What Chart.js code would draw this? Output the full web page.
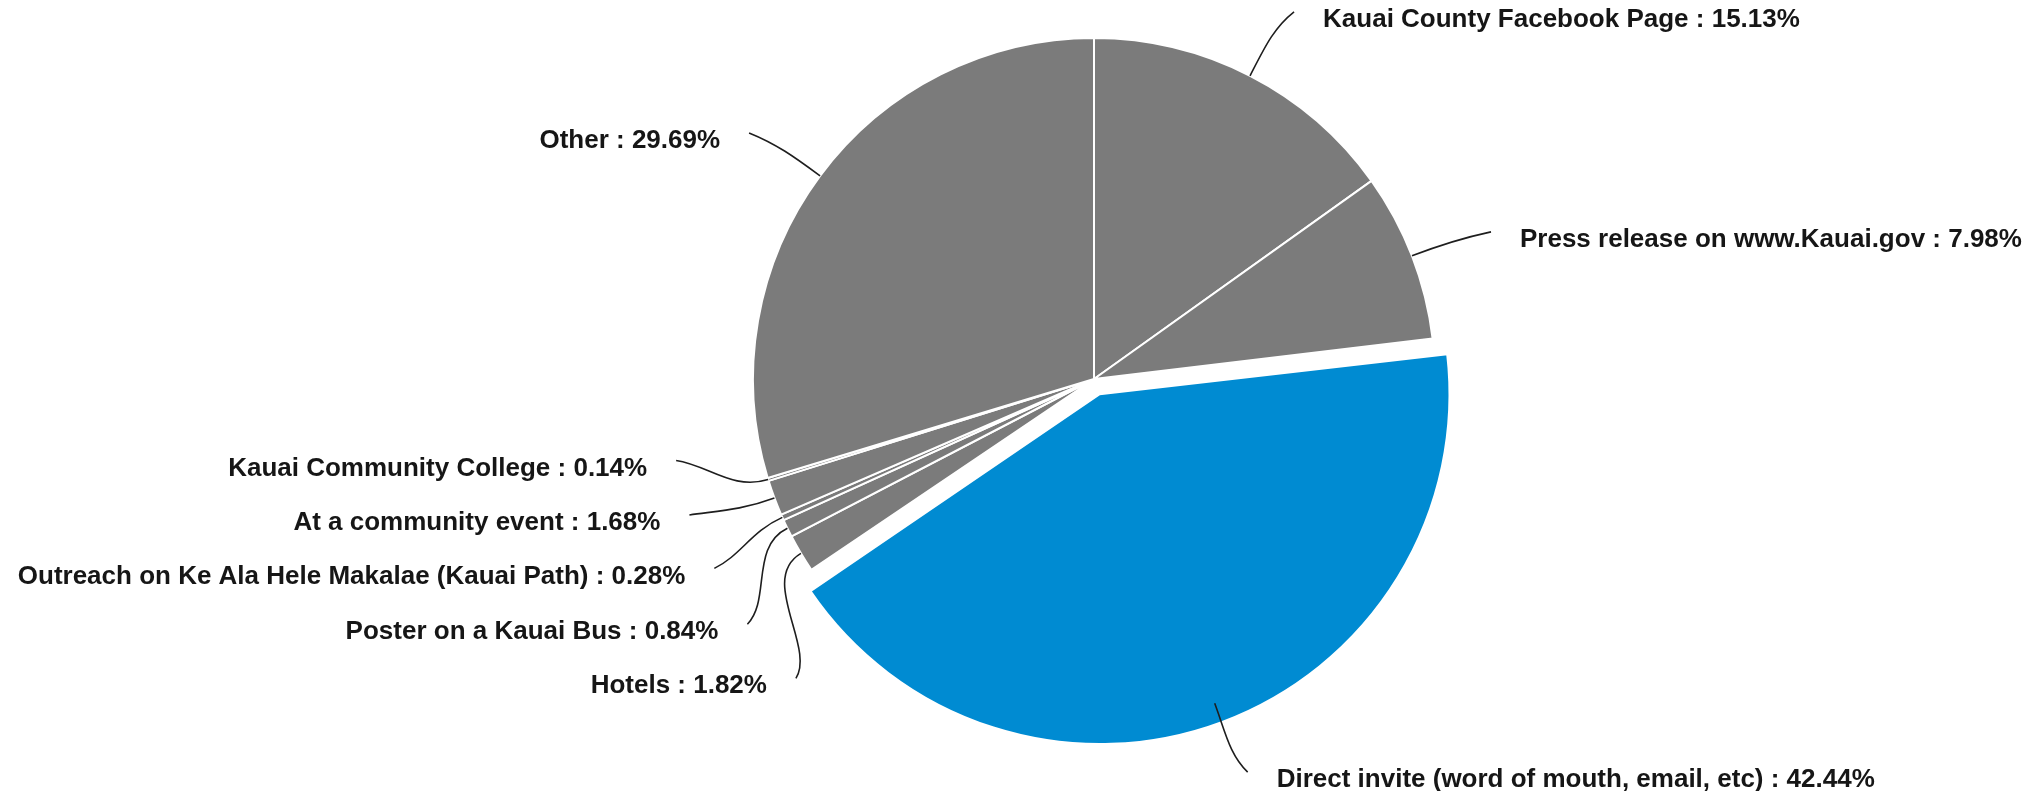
<!DOCTYPE html>
<html>
<head>
<meta charset="utf-8">
<title>How did you hear about it?</title>
<script src="https://cdn.jsdelivr.net/npm/chart.js@4/dist/chart.umd.min.js"></script>
<style>
  html, body { margin: 0; padding: 0; background: #ffffff; }
  #wrap { width: 2036px; height: 791px; }
</style>
</head>
<body>
<div id="wrap"><canvas id="myChart" width="2036" height="791"></canvas></div>
<script>
var categories = [
  "Kauai County Facebook Page",
  "Press release on www.Kauai.gov",
  "Direct invite (word of mouth, email, etc)",
  "Hotels",
  "Poster on a Kauai Bus",
  "Outreach on Ke Ala Hele Makalae (Kauai Path)",
  "At a community event",
  "Kauai Community College",
  "Other"
];
var shares = [15.13, 7.98, 42.44, 1.82, 0.84, 0.28, 1.68, 0.14, 29.69];

// which slice is pulled out and coloured
var highlighted = [false, false, true, false, false, false, false, false, false];

// where each leader line ends, relative to the point on the slice edge
var labelOffsets = [
  [44, -64], [79, -24], [26, 50], [-5, 125], [-40, 96],
  [-68, 51], [-85, 17], [-92, -19], [-71, -43]
];

var GRAY = "#7b7b7b";
var BLUE = "#008bd2";
var PULL = 65;

var leaderLabels = {
  id: "leaderLabels",
  afterDatasetsDraw: function(chart) {
    var ctx = chart.ctx;
    var meta = chart.getDatasetMeta(0);
    ctx.save();
    ctx.font = "bold 26px 'Liberation Sans', Arial, sans-serif";
    ctx.textBaseline = "middle";
    for (var i = 0; i < meta.data.length; i++) {
      var arc = meta.data[i];
      var p = arc.getProps(["x", "y", "startAngle", "endAngle", "outerRadius"], true);
      var mid = (p.startAngle + p.endAngle) / 2;
      var cx = p.x, cy = p.y;
      var inset = 0;
      if (highlighted[i]) {
        // same shift the arc element uses when it draws an offset slice
        var circ = p.endAngle - p.startAngle;
        var fix = 1 - Math.sin(Math.min(Math.PI, circ));
        var shift = (PULL / 4) * (1 + fix);
        cx += Math.cos(mid) * shift;
        cy += Math.sin(mid) * shift;
        inset = 20;
      }
      var ux = Math.cos(mid), uy = Math.sin(mid);
      var ex = cx + ux * p.outerRadius;
      var ey = cy + uy * p.outerRadius;
      var x0 = cx + ux * (p.outerRadius - inset);
      var y0 = cy + uy * (p.outerRadius - inset);
      var x3 = ex + labelOffsets[i][0];
      var y3 = ey + labelOffsets[i][1];
      var side = labelOffsets[i][0] >= 0 ? 1 : -1;
      var dx = x3 - x0, dy = y3 - y0;
      var dist = Math.sqrt(dx * dx + dy * dy);

      ctx.beginPath();
      ctx.moveTo(x0, y0);
      ctx.bezierCurveTo(
        x0 + ux * dist * 0.4, y0 + uy * dist * 0.4,
        x3 - side * dist * 0.15 + (x0 - x3) * 0.2, y3 + (y0 - y3) * 0.25,
        x3, y3
      );
      ctx.strokeStyle = "#1e1e1e";
      ctx.lineWidth = 1.6;
      ctx.stroke();

      ctx.fillStyle = "#161616";
      ctx.textAlign = side > 0 ? "left" : "right";
      var txt = categories[i] + " : " + shares[i].toFixed(2) + "%";
      ctx.fillText(txt, x3 + side * 29, y3 + 8);
    }
    ctx.restore();
  }
};

var chart = new Chart(document.getElementById("myChart").getContext("2d"), {
  type: "pie",
  data: {
    labels: categories,
    datasets: [
      {
        data: shares,
        backgroundColor: highlighted.map(function(h) { return h ? BLUE : GRAY; }),
        borderColor: "#ffffff",
        borderWidth: 2,
        hoverBorderWidth: 2,
        offset: highlighted.map(function(h) { return h ? PULL : 0; }),
        hoverOffset: 0
      }
    ]
  },
  options: {
    responsive: false,
    animation: false,
    radius: 341,
    layout: { padding: { left: 152, right: 0, top: 0, bottom: 33 } },
    events: [],
    plugins: {
      legend: { display: false },
      tooltip: { enabled: false },
      title: { display: false }
    }
  },
  plugins: [leaderLabels]
});
</script>
</body>
</html>
